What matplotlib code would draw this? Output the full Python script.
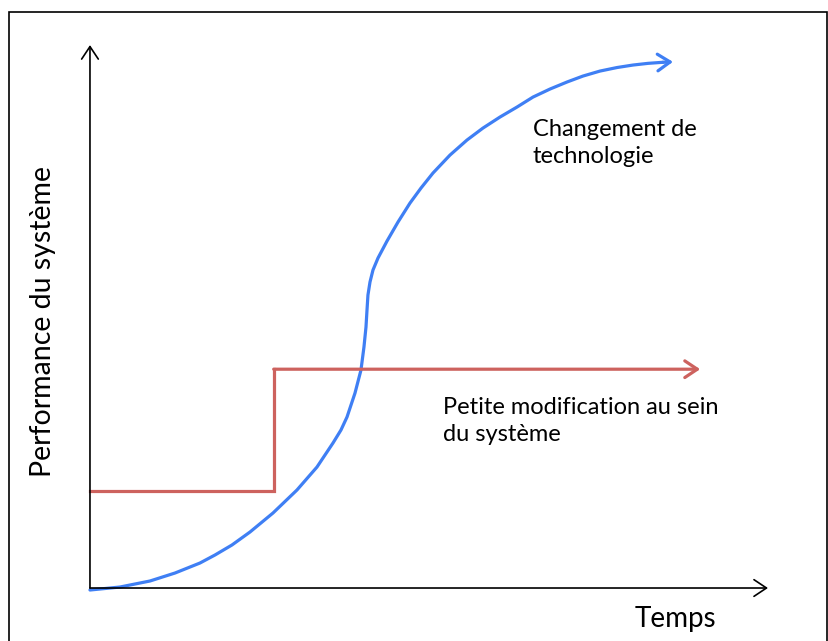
import matplotlib
matplotlib.use("Agg")
import matplotlib.pyplot as plt
from matplotlib.patches import Rectangle

plt.rcParams['font.family'] = ['Lato', 'DejaVu Sans']

# courbe en S : changement de technologie (temps, performance)
tech_t = [0, 4.42, 8.85, 12.54, 16.22, 18.44, 20.94, 23.6, 26.99, 30.53, 33.48,
          35.84, 37.02, 37.91, 39.09, 39.97, 40.41, 40.71, 40.86, 41.0, 41.3,
          41.74, 42.48, 43.81, 45.43, 47.2, 48.82, 50.59, 53.1, 55.6, 57.96,
          60.47, 62.98, 65.34, 67.85, 70.35, 72.71, 75.22, 77.73, 80.09, 82.3,
          84.51, 85.99]
tech_p = [-0.37, 0.18, 1.29, 2.76, 4.6, 6.08, 7.92, 10.31, 13.81, 18.05, 22.28,
          26.7, 29.1, 31.49, 35.91, 40.15, 44.38, 48.07, 51.2, 53.96, 56.35,
          58.56, 60.77, 63.9, 67.4, 70.9, 73.66, 76.43, 79.74, 82.5, 84.71,
          86.74, 88.58, 90.42, 91.9, 93.19, 94.29, 95.21, 95.86, 96.32, 96.63,
          96.83, 96.91]

# palier : petite modification au sein du systeme
step_t = [0, 27.1, 27.1, 90.0]
step_p = [17.9, 17.9, 40.3, 40.3]

axis_end_t = 100
axis_end_p = 100

blue = '#3f7ff4'
red = '#cd625e'

fig = plt.figure(figsize=(8.29, 6.41), dpi=100)
ax = fig.add_axes([0, 0, 1, 1])
ax.set_xlim(-13.27, 109.0)
ax.set_ylim(-9.76, 108.3)
ax.axis('off')

# axes fleches
arrow_kw = dict(arrowstyle='->,head_length=0.45,head_width=0.3', color='black',
                lw=1.2, shrinkA=0, shrinkB=0, mutation_scale=20)
ax.annotate('', xy=(axis_end_t, 0), xytext=(0, 0), arrowprops=arrow_kw)
ax.annotate('', xy=(0, axis_end_p), xytext=(0, 0), arrowprops=arrow_kw)

# courbes
ax.plot(step_t[:-1], step_p[:-1], color=red, lw=2.3, solid_joinstyle='miter')
ax.annotate('', xy=(step_t[-1], step_p[-1]), xytext=(step_t[-2], step_p[-2]),
            arrowprops=dict(arrowstyle='->,head_length=0.45,head_width=0.3', color=red,
                            lw=2.3, shrinkA=0, shrinkB=0, mutation_scale=20))

ax.plot(tech_t[:-1], tech_p[:-1], color=blue, lw=2.3, solid_capstyle='round',
        solid_joinstyle='round')
ax.annotate('', xy=(tech_t[-1], tech_p[-1]), xytext=(tech_t[-2], tech_p[-2]),
            arrowprops=dict(arrowstyle='->,head_length=0.45,head_width=0.3', color=blue,
                            lw=2.3, shrinkA=0, shrinkB=0, mutation_scale=20))

# textes
ax.text(-7.0, 49.0, 'Performance du système', rotation=90, fontsize=20.5,
        ha='center', va='center')
ax.text(86.3, -5.7, 'Temps', fontsize=20, ha='center', va='center')
ax.text(65.3, 82.0, 'Changement de\ntechnologie', fontsize=17, ha='left',
        va='center', linespacing=1.35)
ax.text(52.0, 30.75, 'Petite modification au sein\ndu système', fontsize=17,
        ha='left', va='center', linespacing=1.35)

# cadre
fig.patches.append(Rectangle((9 / 829, -0.01), 818 / 829, 1 - 12 / 641 + 0.01,
                             transform=fig.transFigure, fill=False,
                             edgecolor='black', lw=1.2))

fig.savefig('out.png', dpi=100)
